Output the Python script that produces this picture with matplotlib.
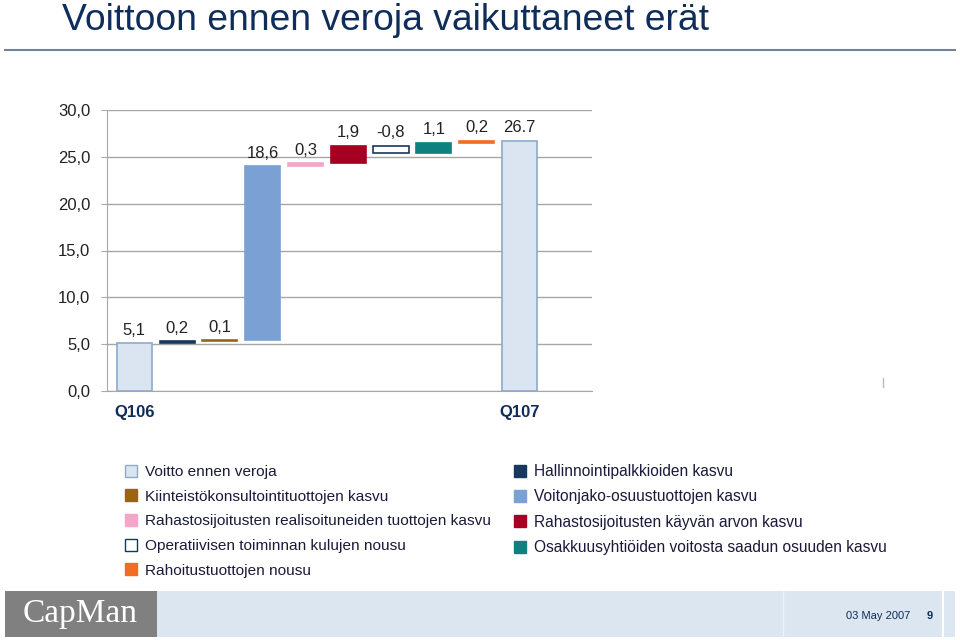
import matplotlib
matplotlib.use("Agg")
import matplotlib.pyplot as plt
from matplotlib.patches import Rectangle
from matplotlib.lines import Line2D

plt.rcParams['font.family'] = ['Liberation Sans', 'DejaVu Sans']

categories = ["Q106", "Hallinnointipalkkioiden kasvu", "Kiinteistökonsultointituottojen kasvu",
              "Voitonjako-osuustuottojen kasvu", "Rahastosijoitusten realisoituneiden tuottojen kasvu",
              "Rahastosijoitusten käyvän arvon kasvu", "Operatiivisen toiminnan kulujen nousu",
              "Osakkuusyhtiöiden voitosta saadun osuuden kasvu", "Rahoitustuottojen nousu", "Q107"]
values = [5.1, 0.2, 0.1, 18.6, 0.3, 1.9, -0.8, 1.1, 0.2, 26.7]
value_labels = ["5,1", "0,2", "0,1", "18,6", "0,3", "1,9", "-0,8", "1,1", "0,2", "26.7"]
is_total = [True, False, False, False, False, False, False, False, False, True]
x_tick_labels = ["Q106", "", "", "", "", "", "", "", "", "Q107"]
colors = ["#dbe5f1", "#17375e", "#996515", "#7aa0d4", "#f4a6c8", "#a50021", "#ffffff", "#0e8080", "#f26c22", "#dbe5f1"]
edges = ["#8ea9c8", "#17375e", "#996515", "#7aa0d4", "#f4a6c8", "#a50021", "#17375e", "#0e8080", "#f26c22", "#8ea9c8"]
yticks = [0, 5, 10, 15, 20, 25, 30]
ytick_labels = ["0,0", "5,0", "10,0", "15,0", "20,0", "25,0", "30,0"]

legend_left = [("Voitto ennen veroja", 0), ("Kiinteistökonsultointituottojen kasvu", 2),
               ("Rahastosijoitusten realisoituneiden tuottojen kasvu", 4),
               ("Operatiivisen toiminnan kulujen nousu", 6), ("Rahoitustuottojen nousu", 8)]
legend_right = [("Hallinnointipalkkioiden kasvu", 1), ("Voitonjako-osuustuottojen kasvu", 3),
                ("Rahastosijoitusten käyvän arvon kasvu", 5),
                ("Osakkuusyhtiöiden voitosta saadun osuuden kasvu", 7)]

navy = "#0f2d5a"
fig = plt.figure(figsize=(9.6, 6.4), dpi=100)

# title
fig.text(62/960, 1 - 20/640, "Voittoon ennen veroja vaikuttaneet erät", fontsize=26.8,
         color=navy, va="center", ha="left")
fig.add_artist(Line2D([5/960, 955/960], [1 - 50/640, 1 - 50/640], color="#6f8296", lw=1.5))

ax = fig.add_axes([107/960, 1 - 391/640, 485/960, 281/640])

bottoms = []
running = 0.0
for v, tot in zip(values, is_total):
    if tot:
        bottoms.append(0.0)
        running = v
    else:
        if v >= 0:
            bottoms.append(running)
        else:
            bottoms.append(running + v)
        running += v
heights = [abs(v) if not t else v for v, t in zip(values, is_total)]

xs = list(range(len(values)))
ax.bar(xs, heights, bottom=bottoms, width=0.82, color=colors, edgecolor=edges, linewidth=1.2, zorder=3)

for x, b, h, lab in zip(xs, bottoms, heights, value_labels):
    ax.text(x, b + h + 0.6, lab, ha="center", va="bottom", fontsize=12, color="#222222", zorder=4)

ax.set_xlim(-0.64, 10.7)
ax.set_ylim(0, 30)
ax.set_yticks(yticks)
ax.set_yticklabels(ytick_labels, fontsize=12, color="#222222")
ax.set_xticks(xs)
ax.set_xticklabels(x_tick_labels, fontsize=12, fontweight="bold", color=navy)
ax.tick_params(axis="x", length=0, pad=10)
ax.tick_params(axis="y", length=4, color="#aaaaaa", pad=8)
ax.grid(axis="y", color="#a6a6a6", lw=1, zorder=0)
for s in ["top", "right"]:
    ax.spines[s].set_visible(False)
for s in ["left", "bottom"]:
    ax.spines[s].set_color("#a6a6a6")

# small tick mark on right
fig.add_artist(Line2D([883/960, 883/960], [1 - 378/640, 1 - 387/640], color="#bbbbbb", lw=1))

# legends
def handles(items):
    hs = []
    for lab, i in items:
        hs.append(Line2D([], [], marker="s", linestyle="none", markersize=8,
                         markerfacecolor=colors[i], markeredgecolor=edges[i], markeredgewidth=1.0,
                         label=lab))
    return hs

lg1 = fig.legend(handles=handles(legend_left), loc="upper left",
                 bbox_to_anchor=(119/960, 1 - 459/640), frameon=False, fontsize=11.1,
                 handlelength=0.8, handletextpad=0.5, labelspacing=0.69, borderaxespad=0)
for t in lg1.get_texts():
    t.set_color("#1a1a3a")
lg2 = fig.legend(handles=handles(legend_right), loc="upper left",
                 bbox_to_anchor=(508/960, 1 - 458/640), frameon=False, fontsize=11.2,
                 handlelength=0.8, handletextpad=0.45, labelspacing=0.66, borderaxespad=0)
for t in lg2.get_texts():
    t.set_color("#1a1a3a")

# footer
fig.add_artist(Rectangle((5/960, 3/640), 152/960, 46/640, transform=fig.transFigure,
                         facecolor="#808080", edgecolor="none"))
fig.add_artist(Rectangle((157/960, 3/640), 798/960, 46/640, transform=fig.transFigure,
                         facecolor="#dce6f0", edgecolor="none"))
fig.add_artist(Line2D([783/960, 783/960], [3/640, 49/640], color="#eef2f7", lw=1))
fig.add_artist(Line2D([943/960, 943/960], [3/640, 49/640], color="#ffffff", lw=1.5))
fig.text(80/960, 26/640, "CapMan", fontsize=24, color="white", family="Liberation Serif",
         ha="center", va="center")
fig.text(878/960, 24/640, "03 May 2007", fontsize=8, color=navy, ha="center", va="center")
fig.text(930/960, 24/640, "9", fontsize=8, color=navy, fontweight="bold", ha="center", va="center")

fig.savefig("out.png", dpi=100)
